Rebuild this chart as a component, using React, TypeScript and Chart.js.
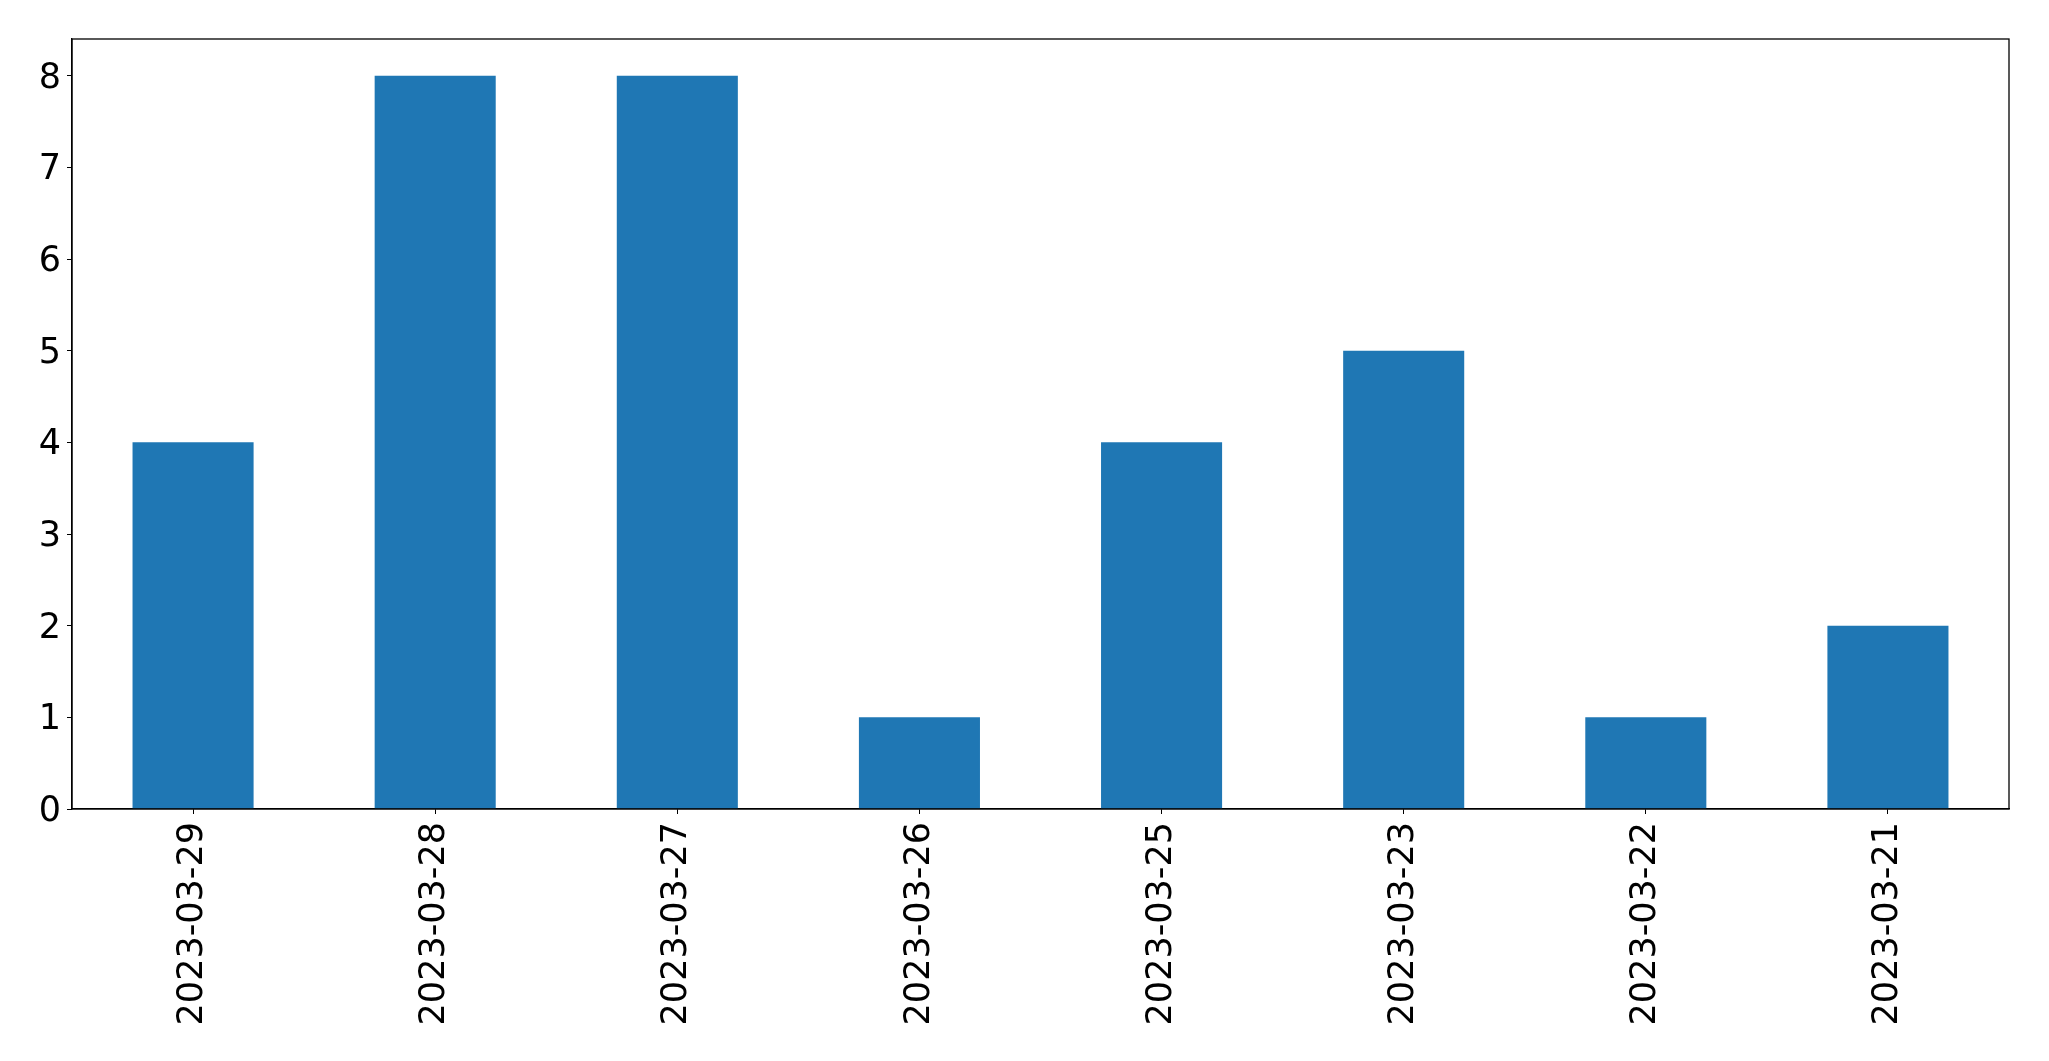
import React, { useEffect, useRef } from "react";
import { Chart, registerables } from "chart.js";

Chart.register(...registerables);

const categories = [
  "2023-03-29",
  "2023-03-28",
  "2023-03-27",
  "2023-03-26",
  "2023-03-25",
  "2023-03-23",
  "2023-03-22",
  "2023-03-21",
];
const counts = [4, 8, 8, 1, 4, 5, 1, 2];
const yMax = 8.4;

const W = 2049;
const H = 1061;
const FONT = "'DejaVu Sans', sans-serif";

const framePlugin = {
  id: "frame",
  afterDraw(chart: any) {
    const { ctx, chartArea } = chart;
    ctx.save();
    ctx.strokeStyle = "#000";
    ctx.lineWidth = 1.3;
    ctx.strokeRect(chartArea.left, chartArea.top, chartArea.right - chartArea.left, chartArea.bottom - chartArea.top);
    ctx.restore();
  },
};

export default function App() {
  const ref = useRef<HTMLCanvasElement>(null);
  useEffect(() => {
    document.body.style.margin = "0";
    const chart = new Chart(ref.current as HTMLCanvasElement, {
      type: "bar",
      data: {
        labels: categories,
        datasets: [
          {
            data: counts,
            backgroundColor: "#1f77b4",
            categoryPercentage: 1,
            barPercentage: 0.5,
          },
        ],
      },
      plugins: [framePlugin],
      options: {
        responsive: false,
        animation: false,
        layout: { padding: { top: 39, right: 40, left: 0, bottom: 0 } },
        plugins: { legend: { display: false }, tooltip: { enabled: false } },
        scales: {
          x: {
            offset: true,
            grid: { display: true, drawOnChartArea: false, drawTicks: true, tickLength: 5, tickColor: "#000", offset: false },
            border: { display: true, color: "#000", width: 1.3 },
            ticks: {
              color: "#000",
              font: { family: FONT, size: 35 },
              minRotation: 90,
              maxRotation: 90,
              autoSkip: false,
              padding: 8,
            },
            afterFit(scale: any) {
              scale.height = 252;
            },
          },
          y: {
            min: 0,
            max: yMax,
            grid: { display: true, drawOnChartArea: false, drawTicks: true, tickLength: 5, tickColor: "#000" },
            border: { display: true, color: "#000", width: 1.3 },
            ticks: {
              stepSize: 1,
              includeBounds: false,
              color: "#000",
              font: { family: FONT, size: 35 },
              padding: 6,
              labelOffset: 3,
            },
            afterBuildTicks(scale: any) {
              scale.ticks = scale.ticks.filter((t: any) => Number.isInteger(t.value));
            },
            afterFit(scale: any) {
              scale.width = 72;
            },
          },
        },
      },
    } as any);
    return () => chart.destroy();
  }, []);
  return (
    <div style={{ width: W, height: H, background: "#fff" }}>
      <canvas ref={ref} width={W} height={H} style={{ display: "block" }} />
    </div>
  );
}
